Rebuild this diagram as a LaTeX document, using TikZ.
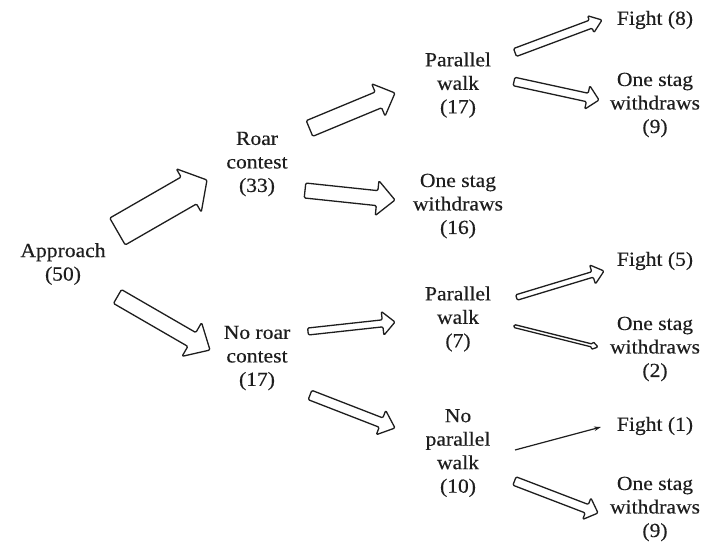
\documentclass[tikz,border=0pt]{standalone}
\usepackage{fontspec}
\setmainfont[FakeStretch=1.08,FakeBold=0.35]{Liberation Serif}
\usetikzlibrary{calc,arrows.meta}
\definecolor{ink}{HTML}{1E1E1E}
\newcommand{\stagarrow}[5]{%
  \coordinate (fa-b) at ($(#2)!#5!(#1)$);
  \draw[fatarrow] ($(#1)!#3!90:(#2)$) -- ($(fa-b)!#3!90:(#2)$) -- ($(fa-b)!#4!90:(#2)$)
    -- (#2) -- ($(fa-b)!#4!-90:(#2)$) -- ($(fa-b)!#3!-90:(#2)$) -- ($(#1)!#3!-90:(#2)$) -- cycle;}
\tikzset{
  lbl/.style={align=center, inner sep=0pt, text=ink, font=\fontsize{20}{23.5}\selectfont},
  fatarrow/.style={draw=ink, fill=white, line width=1.3pt, line join=round, rounded corners=1.2pt},
  thinarrow/.style={draw=ink, line width=1.2pt, -{Stealth[length=7pt,width=4.5pt]}}
}
\begin{document}
\begin{tikzpicture}[x=1pt,y=-1pt]
\useasboundingbox[fill=white] (0,0) rectangle (715,541);
% nodes
\node[lbl] (app) at (63,264) {Approach\\(50)};
\node[lbl] (roar) at (257,164) {Roar\\contest\\(33)};
\node[lbl] (noroar) at (257,358) {No roar\\contest\\(17)};
\node[lbl] (pw17) at (458,85) {Parallel\\walk\\(17)};
\node[lbl] (osw16) at (458,206) {One stag\\withdraws\\(16)};
\node[lbl] (pw7) at (458,319) {Parallel\\walk\\(7)};
\node[lbl] (npw) at (458,453) {No\\parallel\\walk\\(10)};
\node[lbl] (f8) at (655,20) {Fight (8)};
\node[lbl] (osw9a) at (655,105) {One stag\\withdraws\\(9)};
\node[lbl] (f5) at (655,261) {Fight (5)};
\node[lbl] (osw2) at (655,349) {One stag\\withdraws\\(2)};
\node[lbl] (f1) at (655,426) {Fight (1)};
\node[lbl] (osw9b) at (655,509) {One stag\\withdraws\\(9)};
% arrow end points
\coordinate (t1) at (117.5,231.5); \coordinate (h1) at (207,180);
\coordinate (t2) at (117.5,296.5); \coordinate (h2) at (210,350);
\coordinate (t3) at (309.5,128.5); \coordinate (h3) at (395,93);
\coordinate (t4) at (305,190.5);   \coordinate (h4) at (395,200);
\coordinate (t5) at (515,52.5);    \coordinate (h5) at (602,20);
\coordinate (t6) at (514,81.5);    \coordinate (h6) at (599,100);
\coordinate (t7) at (308,331.5);   \coordinate (h7) at (395,322);
\coordinate (t8) at (310,395);     \coordinate (h8) at (395,428);
\coordinate (t9) at (516.5,297.5); \coordinate (h9) at (604,271);
\coordinate (t10) at (514,326);    \coordinate (h10) at (598,347);
\coordinate (t11) at (515,450);    \coordinate (h11) at (601,427);
\coordinate (t12) at (514.5,481);  \coordinate (h12) at (598,513);
% arrows
\stagarrow{t1}{h1}{15.5pt}{25pt}{21pt}
\stagarrow{t2}{h2}{8pt}{19.5pt}{21pt}
\stagarrow{t3}{h3}{8.5pt}{17.5pt}{18pt}
\stagarrow{t4}{h4}{7.5pt}{17.5pt}{18pt}
\stagarrow{t5}{h5}{4.2pt}{9pt}{12pt}
\stagarrow{t6}{h6}{4.3pt}{12pt}{12pt}
\stagarrow{t7}{h7}{3.5pt}{12pt}{12.5pt}
\stagarrow{t8}{h8}{5pt}{13pt}{15pt}
\stagarrow{t9}{h9}{2.8pt}{10pt}{12pt}
\stagarrow{t10}{h10}{1.5pt}{4pt}{6pt}
\draw[thinarrow] (t11) -- (h11);
\stagarrow{t12}{h12}{4.5pt}{11.5pt}{12pt}
\end{tikzpicture}
\end{document}
